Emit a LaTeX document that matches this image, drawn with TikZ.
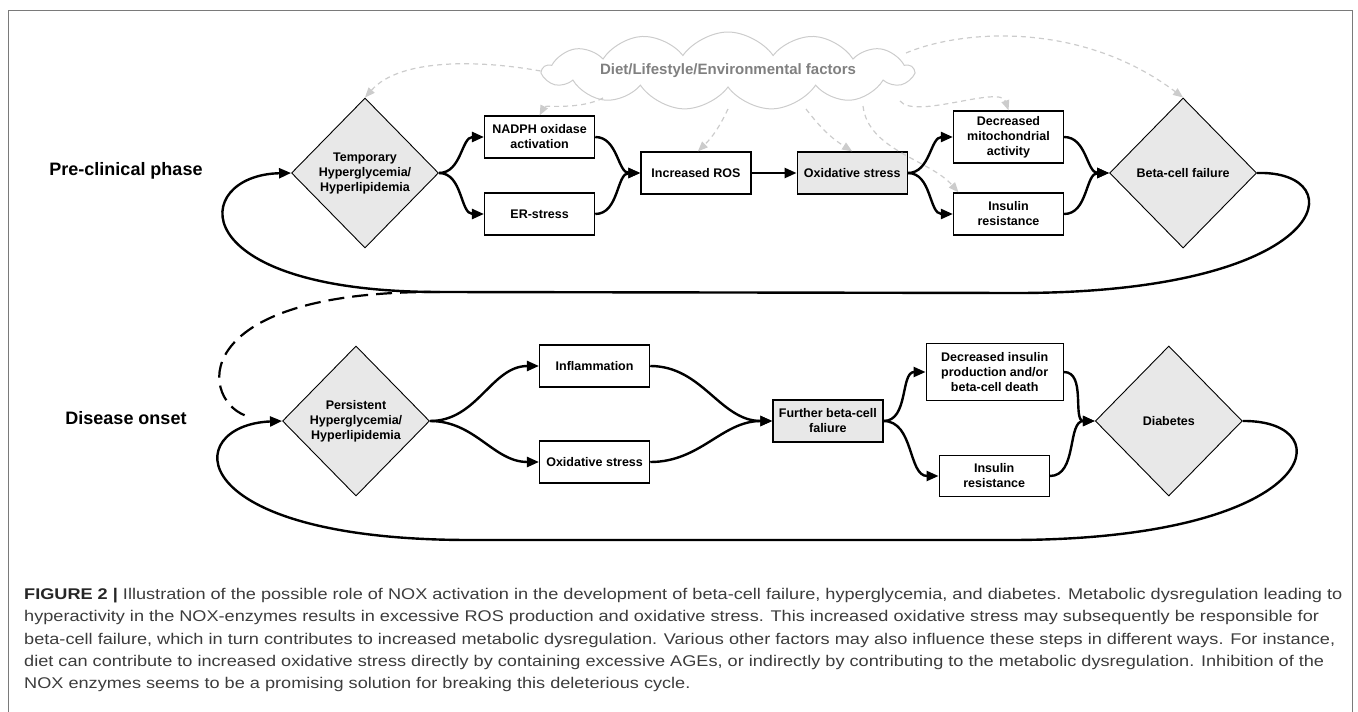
\documentclass[tikz,border=0pt]{standalone}
\usepackage{fontspec}
\setmainfont{Liberation Sans}
\newfontfamily\captionfont{Liberation Sans}[FakeStretch=1.17]
\usepackage{xcolor}
\usetikzlibrary{positioning,shapes.geometric,shapes.symbols,arrows.meta}

\definecolor{boxgray}{HTML}{E8E8E8}
\definecolor{factorgray}{HTML}{CCCCCC}
\definecolor{cloudtext}{HTML}{808080}
\definecolor{framegray}{HTML}{7A7A7A}
\definecolor{captiongray}{HTML}{3C3C3C}

\begin{document}
\begin{tikzpicture}[
		x=1pt, y=-1pt,
		node distance = 45pt and 45pt,
		every node/.style={font=\bfseries\fontsize{12.5}{15}\selectfont},
		block/.style = {draw, line width=1.3pt, rectangle, minimum height=42pt, minimum width=110pt, align=center, inner sep=2pt},
		shaded/.style = {block, fill=boxgray},
		decision/.style = {draw, line width=0.9pt, diamond, aspect=1, minimum width=147pt, minimum height=150pt, inner sep=0pt, align=center, fill=boxgray},
		phase/.style = {font=\bfseries\fontsize{18}{22}\selectfont},
		flow/.style = {draw, line width=2.4pt, -{Triangle[length=12pt,width=10pt]}},
		factor/.style = {draw=factorgray, line width=1.2pt, dash pattern=on 5pt off 4pt, -{Triangle[length=10pt,width=8pt]}},
		feedback/.style = {draw, line width=2.2pt, dash pattern=on 16pt off 8pt},
		caption/.style = {font=\captionfont\fontsize{15.5}{22.3}\selectfont, text=captiongray, align=left, inner sep=0pt}
	]

	\useasboundingbox (0,0) rectangle (1358,712);
	\draw [framegray, line width=1pt] (8,712) -- (8,10) -- (1352,10) -- (1352,712);

	% Phases
	\node [phase] (preclin) at (126,171) {Pre-clinical phase};
	\node [phase] (onset) at (126,418) {Disease onset};

	% Factors
	\node [cloud, draw=factorgray, line width=1pt, cloud puffs=13, cloud puff arc=110, minimum width=370pt, minimum height=78pt, inner sep=0pt, text=cloudtext, font=\bfseries\fontsize{15}{18}\selectfont] (factors) at (728,71) {\makebox[0pt]{Diet/Lifestyle/Environmental factors}};

	% Pre-clinical row
	\node [decision] (tempHyper) at (365,173) {Temporary\\Hyperglycemia/\\Hyperlipidemia};
	\node [block, right=45pt of tempHyper, yshift=36pt] (nadph) {NADPH oxidase\\activation};
	\node [block, right=45pt of tempHyper, yshift=-41pt] (erStress) {ER-stress};
	\node [block, right=45pt of nadph, yshift=-36pt] (ros) {Increased ROS};
	\node [shaded, right=45pt of ros] (oxStress) {Oxidative stress};
	\node [block, minimum height=52pt, right=45pt of oxStress, yshift=36pt] (mito) {Decreased\\mitochondrial\\activity};
	\node [block, right=45pt of oxStress, yshift=-41pt] (insRes) {Insulin\\resistance};
	\node [decision, right=45pt of mito, yshift=-36pt] (betaFail) {Beta-cell failure};

	% Disease onset row
	\node [decision] (persHyper) at (356,421) {Persistent\\Hyperglycemia/\\Hyperlipidemia};
	\node [block, right=109pt of persHyper, yshift=55pt] (inflam) {Inflammation};
	\node [block, right=109pt of persHyper, yshift=-41pt] (oxStressB) {Oxidative stress};
	\node [shaded, right=122pt of inflam, yshift=-55pt] (furtherFail) {Further beta-cell\\faliure};
	\node [block, minimum width=137pt, minimum height=57pt, right=42pt of furtherFail, yshift=49pt] (decInsulin) {Decreased insulin\\production and/or\\beta-cell death};
	\node [block, minimum height=41pt, right=55pt of furtherFail, yshift=-55pt] (insResB) {Insulin\\resistance};
	\node [decision, right=31pt of decInsulin, yshift=-49pt] (diabetes) {Diabetes};

	% Loop corners
	\coordinate (topLoopB) at (1020,293);
	\coordinate (loopJoin) at (440,292);
	\coordinate (dashEnd) at (250,417);
	\coordinate (botLoopB) at (1010,540);
	\coordinate (botLoopL) at (470,540);

	% Flows, pre-clinical
	\draw [flow] (tempHyper.east) to[out=0,in=180] (nadph.west);
	\draw [flow] (tempHyper.east) to[out=0,in=180] (erStress.west);
	\draw [flow] (nadph.east) to[out=0,in=180] (ros.west);
	\draw [flow] (erStress.east) to[out=0,in=180] (ros.west);
	\draw [flow] (ros) -- (oxStress);
	\draw [flow] (oxStress.east) to[out=0,in=180] (mito.west);
	\draw [flow] (oxStress.east) to[out=0,in=180] (insRes.west);
	\draw [flow] (mito.east) to[out=0,in=180] (betaFail.west);
	\draw [flow] (insRes.east) to[out=0,in=180] (betaFail.west);
	\draw [flow] (betaFail.east) .. controls (1355,170) and (1335,292) .. (topLoopB) -- (loopJoin) .. controls (180,292) and (190,175) .. (tempHyper.west);
	\draw [feedback] (loopJoin) .. controls (180,290) and (200,405) .. (dashEnd);

	% Flows, disease onset
	\draw [flow] (persHyper.east) to[out=0,in=180] (inflam.west);
	\draw [flow] (persHyper.east) to[out=0,in=180] (oxStressB.west);
	\draw [flow] (inflam.east) to[out=0,in=180] (furtherFail.west);
	\draw [flow] (oxStressB.east) to[out=0,in=180] (furtherFail.west);
	\draw [flow] (furtherFail.east) to[out=0,in=180] (decInsulin.west);
	\draw [flow] (furtherFail.east) to[out=0,in=180] (insResB.west);
	\draw [flow] (decInsulin.east) to[out=0,in=180] (diabetes.west);
	\draw [flow] (insResB.east) to[out=0,in=180] (diabetes.west);
	\draw [flow] (diabetes.east) .. controls (1345,420) and (1320,540) .. (botLoopB) -- (botLoopL) .. controls (180,540) and (180,425) .. (persHyper.west);

	% Factor influences
	\draw [factor] (factors.west) .. controls (480,60) and (400,58) .. (tempHyper.north);
	\draw [factor] ([xshift=-125pt,yshift=-27pt]factors.center) .. controls (580,110) and (545,105) .. (nadph.north);
	\draw [factor] ([yshift=-38pt]factors.center) to[bend left=10] ([xshift=2pt]ros.north);
	\draw [factor] ([xshift=78pt,yshift=-38pt]factors.center) to[bend right=10] (oxStress.north);
	\draw [factor] ([xshift=135pt,yshift=-35pt]factors.center) .. controls (868,150) and (930,160) .. ([xshift=-50pt]insRes.north);
	\draw [factor] ([xshift=172pt,yshift=-30pt]factors.center) .. controls (915,120) and (1000,85) .. (mito.north);
	\draw [factor] ([xshift=178pt,yshift=18pt]factors.center) .. controls (960,30) and (1080,20) .. (betaFail.north);

	% Caption
	\node [caption, anchor=north west] (legend) at (24,588) {\textbf{\color{black!85}FIGURE 2 |} Illustration of the possible role of NOX activation in the development of beta-cell failure, hyperglycemia, and diabetes. Metabolic dysregulation leading to\\
hyperactivity in the NOX-enzymes results in excessive ROS production and oxidative stress. This increased oxidative stress may subsequently be responsible for\\
beta-cell failure, which in turn contributes to increased metabolic dysregulation. Various other factors may also influence these steps in different ways. For instance,\\
diet can contribute to increased oxidative stress directly by containing excessive AGEs, or indirectly by contributing to the metabolic dysregulation. Inhibition of the\\
NOX enzymes seems to be a promising solution for breaking this deleterious cycle.};
\end{tikzpicture}
\end{document}
